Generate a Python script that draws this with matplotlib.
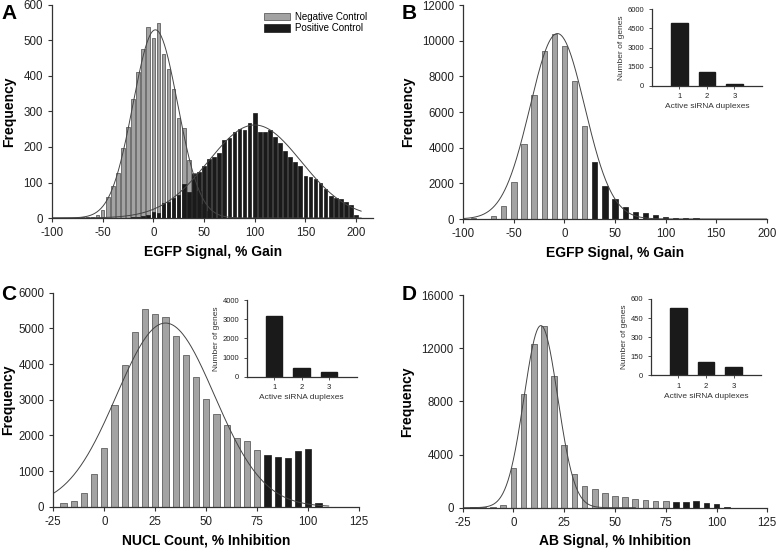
import numpy as np
import matplotlib.pyplot as plt

plt.rcParams['font.family'] = ['Liberation Sans', 'DejaVu Sans']
plt.rcParams['axes.unicode_minus'] = False

# ---- panel A : control distributions (bin centres, counts) ----
a_neg_x = [-75, -70, -65, -60, -55, -50, -45, -40, -35, -30, -25, -20, -15, -10, -5,
           0, 5, 10, 15, 20, 25, 30, 35, 40, 45, 50, 55]
a_neg_y = [1, 2, 3, 4, 8, 22, 58, 90, 128, 198, 256, 335, 412, 475, 537,
           506, 550, 462, 420, 363, 282, 254, 163, 128, 75, 40, 20]
a_pos_x = [-25, -20, -15, -10, -5, 0, 5, 10, 15, 20, 25, 30, 35, 40, 45, 50, 55, 60,
           65, 70, 75, 80, 85, 90, 95, 100, 105, 110, 115, 120, 125, 130, 135, 140,
           145, 150, 155, 160, 165, 170, 175, 180, 185, 190, 195, 200]
a_pos_y = [1, 2, 3, 5, 8, 18, 15, 43, 46, 55, 65, 97, 72, 125, 130, 147, 166, 173,
           182, 220, 226, 243, 251, 249, 268, 295, 241, 241, 248, 227, 212, 189, 171, 159,
           147, 118, 115, 111, 100, 81, 62, 55, 54, 46, 37, 8]
a_neg_fit = (530, 2, 22)     # peak, mean, sd
a_pos_fit = (262, 100, 46)

# ---- panel B : EGFP screen ----
b_x = [-90, -80, -70, -60, -50, -40, -30, -20, -10, 0, 10, 20,
       30, 40, 50, 60, 70, 80, 90, 100, 110, 120, 130, 140]
b_y = [40, 20, 170, 730, 2070, 4200, 6950, 9430, 10400, 9700, 7720, 5230,
       3200, 1870, 1120, 650, 400, 310, 220, 110, 80, 70, 60, 25]
b_cut = 30
b_fit = (10400, -7, 27)
b_genes = [4950, 1120, 180]

# ---- panel C : NUCL count ----
c_x = [-20, -15, -10, -5, 0, 5, 10, 15, 20, 25, 30, 35, 40, 45, 50, 55, 60, 65, 70, 75,
       80, 85, 90, 95, 100, 105]
c_y = [93, 160, 390, 915, 1650, 2850, 3970, 4890, 5530, 5390, 5330, 4800, 4250, 3630,
       3020, 2600, 2290, 1920, 1840, 1580,
       1440, 1380, 1355, 1560, 1620, 105]
c_cut = 80
c_fit = (5150, 30, 24)
c_genes = [3180, 435, 260]

# ---- panel D : AB signal ----
d_x = [-20, -15, -10, -5, 0, 5, 10, 15, 20, 25, 30, 35, 40, 45, 50, 55, 60, 65, 70, 75,
       80, 85, 90, 95, 100, 105]
d_y = [50, 20, 75, 220, 3000, 8550, 12300, 13650, 9900, 4700, 2500, 1630, 1380, 1080,
       880, 780, 630, 580, 500, 500,
       450, 450, 500, 375, 250, 50]
d_cut = 80
d_fit = (13700, 13.5, 8.3)
d_genes = [527, 102, 68]

gray = '#a3a3a3'
dark = '#1a1a1a'
edge = '#4a4a4a'
axcol = '#333333'


def style(ax, fs=8.3):
    for s in ['top', 'right']:
        ax.spines[s].set_visible(False)
    for s in ['left', 'bottom']:
        ax.spines[s].set_color(axcol)
        ax.spines[s].set_linewidth(0.9)
    ax.tick_params(direction='out', length=3, width=0.8, colors=axcol,
                   labelsize=fs, labelcolor='#222222')


def gauss(p, x):
    peak, mu, sd = p
    return peak * np.exp(-0.5 * ((x - mu) / sd) ** 2)


def split_bars(ax, xs, ys, cut, w):
    xs = np.array(xs)
    ys = np.array(ys)
    m = xs < cut
    ax.bar(xs[m], ys[m], width=w, color=gray, edgecolor=edge, linewidth=0.5)
    ax.bar(xs[~m], ys[~m], width=w, color=dark, edgecolor=dark, linewidth=0.5)


def inset(rect, vals, ymax, step):
    ax = fig.add_axes(rect)
    ax.bar([1, 2, 3], vals, width=0.6, color=dark, edgecolor=dark)
    ax.set_xlim(0, 4)
    ax.set_ylim(0, ymax)
    ax.set_xticks([1, 2, 3])
    ax.set_yticks(np.arange(0, ymax + 1, step))
    style(ax, fs=5.5)
    ax.tick_params(length=2, width=0.6)
    ax.set_xlabel('Active siRNA duplexes', fontsize=6, color='#333333', labelpad=2)
    ax.set_ylabel('Number of genes', fontsize=6, color='#333333', labelpad=2)
    return ax


fig = plt.figure(figsize=(7.77, 5.5), dpi=100)

# A
axA = fig.add_axes([0.0669, 0.6036, 0.4135, 0.3874])
axA.bar(a_neg_x, a_neg_y, width=3.6, color=gray, edgecolor=edge, linewidth=0.5,
        label='Negative Control')
axA.bar(a_pos_x, a_pos_y, width=3.6, color=dark, edgecolor=dark, linewidth=0.5,
        label='Positive Control')
xx = np.linspace(-100, 205, 600)
axA.plot(xx, gauss(a_neg_fit, xx), color='#444444', lw=0.7)
axA.plot(xx, gauss(a_pos_fit, xx), color='#444444', lw=0.7)
axA.set_xlim(-100, 217)
axA.set_ylim(0, 600)
axA.set_xticks(np.arange(-100, 201, 50))
axA.set_yticks(np.arange(0, 601, 100))
style(axA)
axA.set_xlabel('EGFP Signal, % Gain', fontsize=10, fontweight='bold', labelpad=4)
axA.set_ylabel('Frequency', fontsize=10, fontweight='bold', labelpad=5)
axA.legend(loc='upper left', bbox_to_anchor=(0.64, 1.0), frameon=False, fontsize=7,
           handlelength=2.6, handleheight=0.8, borderpad=0.2, labelspacing=0.15,
           handletextpad=0.5)

# B
axB = fig.add_axes([0.5963, 0.6018, 0.3905, 0.3891])
split_bars(axB, b_x, b_y, b_cut, 5.2)
xx = np.linspace(-100, 200, 600)
axB.plot(xx, gauss(b_fit, xx), color='#444444', lw=0.7)
axB.set_xlim(-100, 200)
axB.set_ylim(0, 12000)
axB.set_xticks(np.arange(-100, 201, 50))
axB.set_yticks(np.arange(0, 12001, 2000))
style(axB)
axB.set_xlabel('EGFP Signal, % Gain', fontsize=10, fontweight='bold', labelpad=4)
axB.set_ylabel('Frequency', fontsize=10, fontweight='bold', labelpad=5)
inset([0.839, 0.844, 0.1416, 0.139], b_genes, 6000, 1500)

# C
axC = fig.add_axes([0.0686, 0.0787, 0.3938, 0.3891])
split_bars(axC, c_x, c_y, c_cut, 3.0)
xx = np.linspace(-25, 110, 400)
axC.plot(xx, gauss(c_fit, xx), color='#444444', lw=0.7)
axC.set_xlim(-25, 125)
axC.set_ylim(0, 6000)
axC.set_xticks(np.arange(-25, 126, 25))
axC.set_yticks(np.arange(0, 6001, 1000))
style(axC)
axC.set_xlabel('NUCL Count, % Inhibition', fontsize=10, fontweight='bold', labelpad=4)
axC.set_ylabel('Frequency', fontsize=10, fontweight='bold', labelpad=2)
inset([0.3175, 0.315, 0.1416, 0.1395], c_genes, 4000, 1000)

# D
axD = fig.add_axes([0.5955, 0.0769, 0.392, 0.3867])
split_bars(axD, d_x, d_y, d_cut, 2.8)
xx = np.linspace(-25, 60, 400)
axD.plot(xx, gauss(d_fit, xx), color='#444444', lw=0.7)
axD.set_xlim(-25, 125)
axD.set_ylim(0, 16000)
axD.set_xticks(np.arange(-25, 126, 25))
axD.set_yticks(np.arange(0, 16001, 4000))
style(axD)
axD.set_xlabel('AB Signal, % Inhibition', fontsize=10, fontweight='bold', labelpad=4)
axD.set_ylabel('Frequency', fontsize=10, fontweight='bold', labelpad=5)
inset([0.8375, 0.3176, 0.1425, 0.1388], d_genes, 600, 150)

for lab, x, y in [('A', 0.002, 0.976), ('B', 0.517, 0.976), ('C', 0.002, 0.465), ('D', 0.517, 0.464)]:
    fig.text(x, y, lab, fontsize=15, fontweight='bold', va='center', ha='left')

fig.savefig('out.png', dpi=100)
